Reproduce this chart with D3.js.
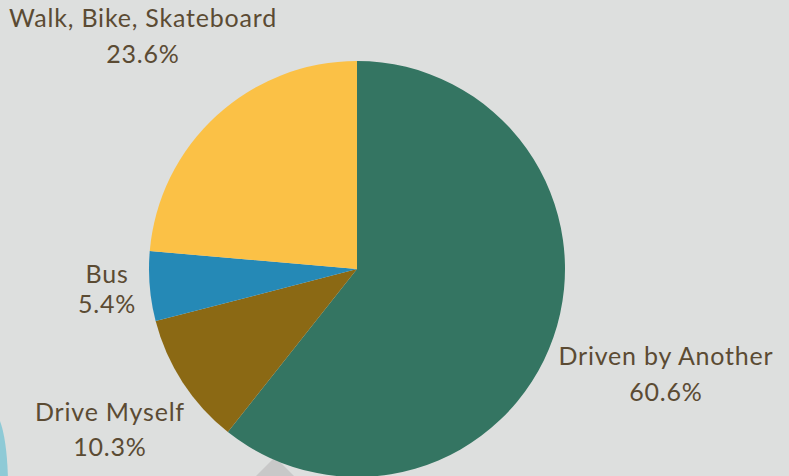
<!DOCTYPE html>
<html>
<head>
<meta charset="utf-8">
<script src="https://cdn.jsdelivr.net/npm/d3@7"></script>
<style>
  html, body { margin: 0; padding: 0; background: #dddfde; }
  svg { display: block; }
</style>
</head>
<body>
<svg id="chart" width="789" height="476"></svg>
<script>
// How students get to school
const categories = ["Driven by Another", "Drive Myself", "Bus", "Walk, Bike, Skateboard"];
const shares = [60.6, 10.3, 5.4, 23.6];
const colors = ["#347562", "#8b6914", "#2589b6", "#fbc146"];
// label anchor (centre x, first baseline y) and line gap for each category
const labelX = [666, 110, 107, 143];
const labelY = [365, 421, 283, 27];
const labelGap = [36, 35, 30, 36];

const svg = d3.select("#chart");
const cx = 357, cy = 269, radius = 208;

// decorative shapes behind the pie
svg.append("path")
  .attr("d", "M 0 421 Q 7 440 8 480 L 0 480 Z")
  .attr("fill", "#8ecad6");
svg.append("path")
  .attr("d", "M 275 457 L 299 481 L 251 481 Z")
  .attr("fill", "#c8c8c8");

const data = categories.map((c, i) => ({ name: c, value: shares[i], color: colors[i], i }));

const pie = d3.pie().value(d => d.value).sort(null);
const arc = d3.arc().innerRadius(0).outerRadius(radius);

const g = svg.append("g").attr("transform", `translate(${cx},${cy})`);
g.selectAll("path.slice")
  .data(pie(data))
  .join("path")
  .attr("class", "slice")
  .attr("d", arc)
  .attr("fill", d => d.data.color);

const labels = svg.append("g")
  .attr("font-family", "Lato, 'Open Sans', sans-serif")
  .attr("font-size", 25)
  .attr("letter-spacing", 0.8)
  .attr("fill", "#5b4b33")
  .attr("text-anchor", "middle");

data.forEach(d => {
  labels.append("text")
    .attr("x", labelX[d.i]).attr("y", labelY[d.i])
    .text(d.name);
  labels.append("text")
    .attr("x", labelX[d.i]).attr("y", labelY[d.i] + labelGap[d.i])
    .text(d3.format(".1f")(d.value) + "%");
});
</script>
</body>
</html>
